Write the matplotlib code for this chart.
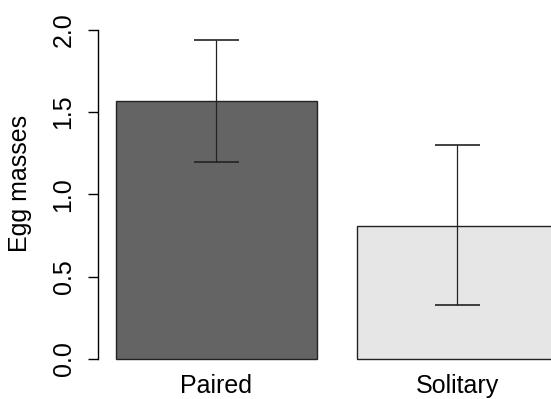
import matplotlib
matplotlib.use('Agg')
import matplotlib.pyplot as plt

# egg masses per group (mean with interval)
groups = ['Paired', 'Solitary']
means = [1.57, 0.81]
lower = [1.20, 0.33]
upper = [1.94, 1.30]
colors = ['#646464', '#e6e6e6']

# R barplot style positions: width 1, space 0.2
centers = [0.7, 1.9]

plt.rcParams['font.family'] = ['Liberation Sans', 'DejaVu Sans']

fig = plt.figure(figsize=(5.51, 3.99), dpi=100)
ax = fig.add_axes([98 / 551, (399 - 372) / 399, 477.6 / 551, 355.2 / 399])

ax.bar(centers, means, width=1.0, color=colors, edgecolor='#222222', linewidth=1.0)

# error bars
yerr = [[m - lo for m, lo in zip(means, lower)], [up - m for m, up in zip(means, upper)]]
ax.errorbar(centers, means, yerr=yerr, fmt='none', ecolor='#222222',
            elinewidth=0.9, capsize=16.2, capthick=1.2)

ax.set_xlim(0.112, 2.488)
ax.set_ylim(-0.08, 2.08)

for s in ['top', 'right', 'bottom']:
    ax.spines[s].set_visible(False)
ax.spines['left'].set_bounds(0, 2)
ax.spines['left'].set_linewidth(1.0)

ax.set_yticks([0, 0.5, 1.0, 1.5, 2.0])
ax.set_yticklabels(['0.0', '0.5', '1.0', '1.5', '2.0'], rotation=90, va='center')
ax.tick_params(axis='y', length=7.2, width=1.0, pad=9, labelsize=18)

ax.set_xticks(centers)
ax.set_xticklabels(groups)
ax.tick_params(axis='x', length=0, pad=1.5, labelsize=18)

ax.set_ylabel('Egg masses', fontsize=18)
ax.yaxis.set_label_coords(-0.138, 0.53)

fig.savefig('out.png', dpi=100)
